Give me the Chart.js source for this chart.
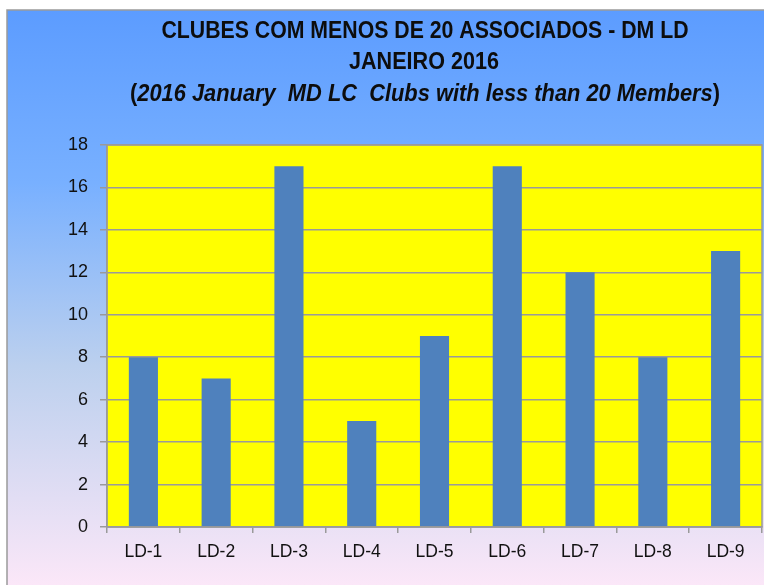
<!DOCTYPE html>
<html>
<head>
<meta charset="utf-8">
<script src="https://cdn.jsdelivr.net/npm/chart.js@4.4.1/dist/chart.umd.min.js"></script>
<style>
  html, body { margin: 0; padding: 0; background: #fff; }
  #wrap { position: absolute; left: 0; top: 0; width: 764px; height: 585px; }
</style>
</head>
<body>
<div id="wrap"><canvas id="chart" width="764" height="585"></canvas></div>
<script>
const categories = ['LD-1', 'LD-2', 'LD-3', 'LD-4', 'LD-5', 'LD-6', 'LD-7', 'LD-8', 'LD-9'];
const clubCounts = [8, 7, 17, 5, 9, 17, 12, 8, 13];
const yTicks = [0, 2, 4, 6, 8, 10, 12, 14, 16, 18];
const titleLines = ['CLUBES COM MENOS DE 20 ASSOCIADOS - DM LD', 'JANEIRO 2016'];
const subtitleText = '2016 January  MD LC  Clubs with less than 20 Members';

const FONT = '"Liberation Sans", Arial, sans-serif';

// draws text squeezed to a given width and stretched a bit vertically (Calibri-ish look)
function drawFitted(ctx, parts, cx, cy, target) {
    let total = 0;
    parts.forEach(p => {
        ctx.font = p.style + ' 20px ' + FONT;
        p.w = ctx.measureText(p.text).width;
        total += p.w;
    });
    const k = target / total;
    ctx.save();
    ctx.translate(cx - target / 2, cy);
    ctx.scale(k, k * 1.12);
    let x = 0;
    parts.forEach(p => {
        ctx.font = p.style + ' 20px ' + FONT;
        ctx.fillText(p.text, x, 0);
        x += p.w;
    });
    ctx.restore();
}

// background, frame, title and yellow plot area
const decorPlugin = {
    id: 'decor',
    beforeDraw(chart) {
        const ctx = chart.ctx;
        const area = chart.chartArea;
        ctx.save();
        const g = ctx.createLinearGradient(0, 10, 0, 585);
        g.addColorStop(0, '#5c9cff');
        g.addColorStop(0.3, '#78b0ff');
        g.addColorStop(0.62, '#bcd0ee');
        g.addColorStop(1, '#fbe7f8');
        ctx.fillStyle = g;
        ctx.fillRect(7, 10, 764, 585);
        ctx.strokeStyle = '#9a9a9a';
        ctx.lineWidth = 1.5;
        ctx.beginPath();
        ctx.moveTo(7, 585);
        ctx.lineTo(7, 10);
        ctx.lineTo(764, 10);
        ctx.stroke();

        ctx.fillStyle = '#ffff00';
        ctx.fillRect(area.left, area.top, area.right - area.left, area.bottom - area.top);

        // title
        ctx.fillStyle = '#0d0d0d';
        ctx.textBaseline = 'middle';
        ctx.textAlign = 'left';
        drawFitted(ctx, [{ text: titleLines[0], style: 'bold' }], 425, 31, 527);
        drawFitted(ctx, [{ text: titleLines[1], style: 'bold' }], 424, 62, 150);
        drawFitted(ctx, [
            { text: '(', style: 'bold' },
            { text: subtitleText, style: 'italic bold' },
            { text: ')', style: 'bold' }
        ], 425, 94, 590);
        ctx.restore();
    },
    afterDatasetsDraw(chart) {
        const ctx = chart.ctx;
        const a = chart.chartArea;
        ctx.save();
        ctx.strokeStyle = '#9a9a9a';
        ctx.lineWidth = 1.5;
        ctx.strokeRect(a.left, a.top, a.right - a.left, a.bottom - a.top);
        ctx.restore();
    }
};

new Chart(document.getElementById('chart').getContext('2d'), {
    type: 'bar',
    data: {
        labels: categories,
        datasets: [{
            label: 'Clubes',
            data: clubCounts,
            backgroundColor: '#4f81bd',
            borderWidth: 0,
            barPercentage: 0.4,
            categoryPercentage: 1
        }]
    },
    options: {
        responsive: false,
        animation: false,
        layout: { padding: { left: 0, right: 2, top: 145, bottom: 0 } },
        plugins: {
            legend: { display: false },
            title: { display: false },
            tooltip: { enabled: false }
        },
        scales: {
            x: {
                offset: true,
                grid: {
                    offset: true,
                    drawOnChartArea: false,
                    drawTicks: true,
                    tickLength: 6,
                    color: '#9a9a9a',
                    lineWidth: 1.5
                },
                border: { color: '#9a9a9a', width: 1.5 },
                ticks: {
                    color: '#111',
                    padding: 9,
                    maxRotation: 0,
                    font: { family: FONT, size: 17.5 }
                },
                afterFit(scale) { scale.height = 58; }
            },
            y: {
                min: 0,
                max: 18,
                afterBuildTicks(scale) { scale.ticks = yTicks.map(v => ({ value: v })); },
                grid: {
                    color: '#9a9a9a',
                    lineWidth: 1.5,
                    tickLength: 7
                },
                border: { color: '#9a9a9a', width: 1.5 },
                ticks: {
                    color: '#111',
                    padding: 12,
                    font: { family: FONT, size: 18 }
                },
                afterFit(scale) { scale.width = 107; }
            }
        }
    },
    plugins: [decorPlugin]
});
</script>
</body>
</html>
